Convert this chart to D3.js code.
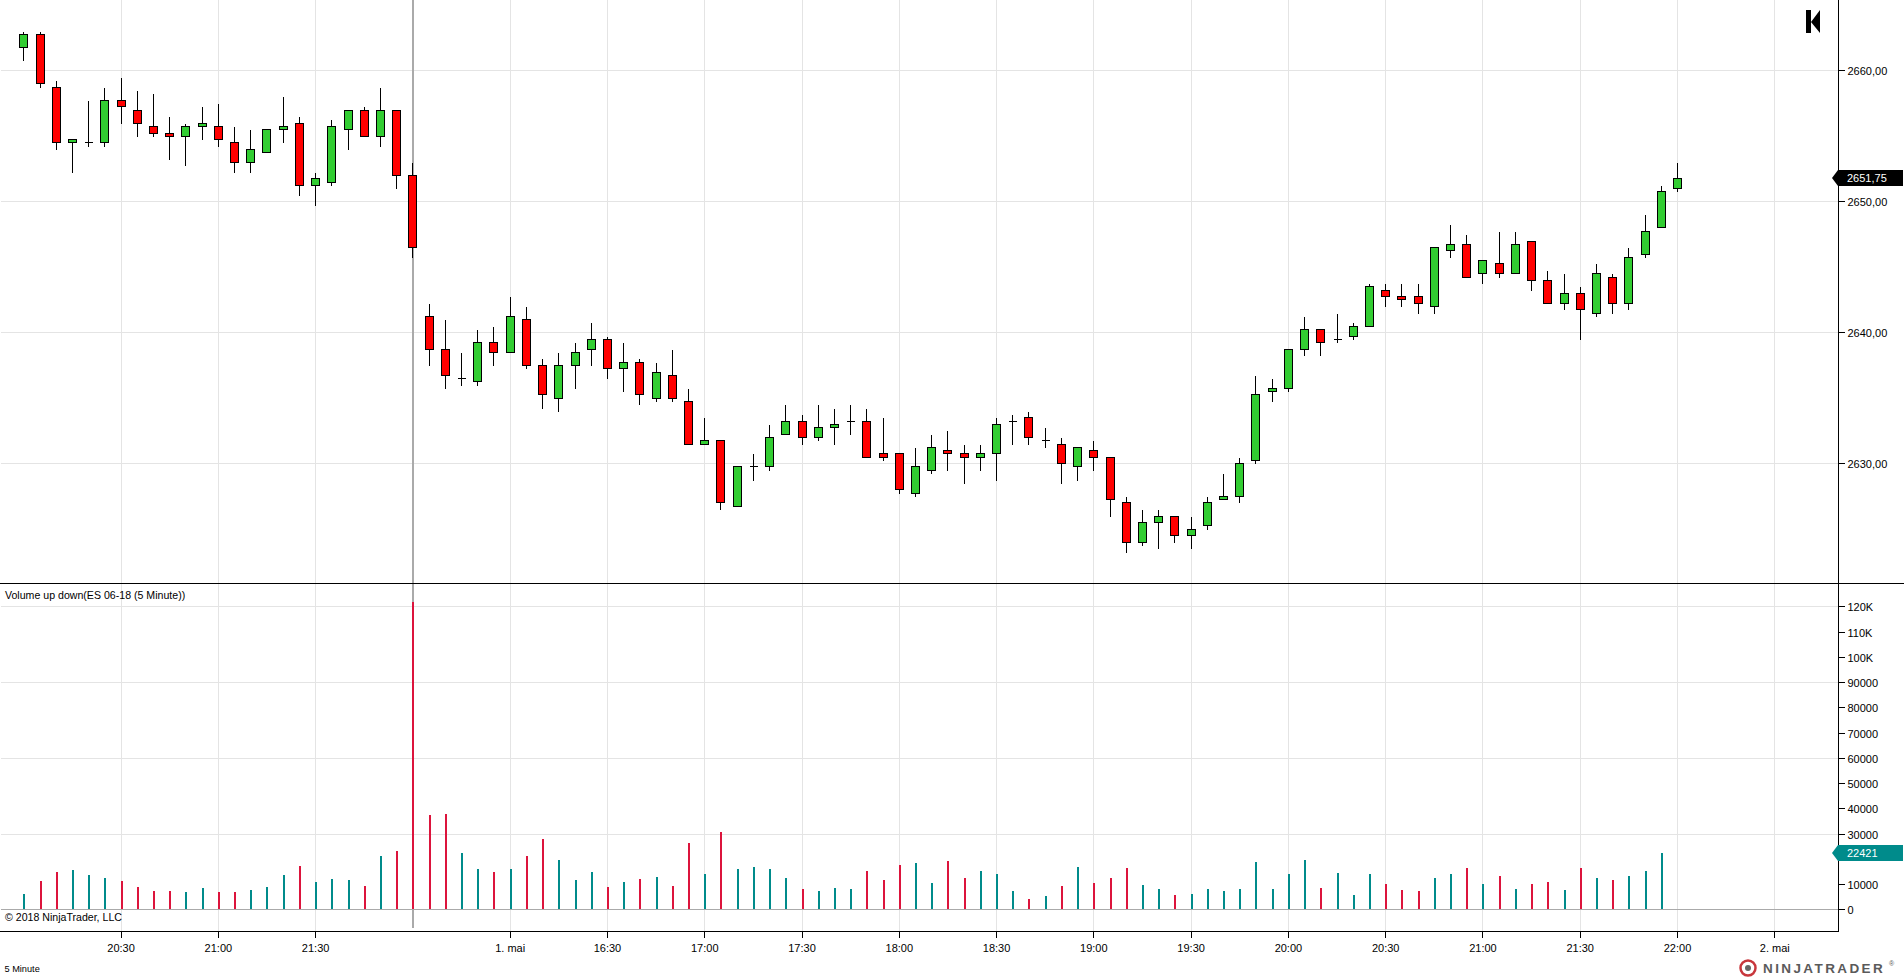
<!DOCTYPE html>
<html><head><meta charset="utf-8">
<style>
html,body{margin:0;padding:0;background:#fff;overflow:hidden}
svg{display:block}
text{font-family:"Liberation Sans",Arial,sans-serif;fill:#000}
.tick text{font-size:11px}
</style>
<script src="https://cdn.jsdelivr.net/npm/d3@7"></script>
</head><body>
<svg id="c" width="1904" height="978"></svg>
<script>
const opens=[2661.75,2662.75,2658.75,2654.5,2654.5,2654.5,2657.75,2657,2655.75,2655.25,2655,2655.75,2655.75,2654.5,2653,2653.75,2655.5,2656,2651.25,2651.5,2655.5,2657,2655,2657,2652,
2641.25,2638.75,2636.5,2636.25,2639.25,2638.5,2641,2637.5,2635,2637.5,2638.75,2639.5,2637.25,2637.75,2635,2636.75,2634.75,2631.5,2631.75,2626.75,2629.75,2629.75,2632.25,2633.25,2632,2632.75,2633.25,2633.25,2630.75,2630.75,2627.75,2629.5,2631,2630.75,2630.5,2630.75,2633.25,2633.5,2631.75,2631.5,2629.75,2631,2630.5,2627,2624,2625.5,2626,2624.5,2625.25,2627.25,2627.5,2630.25,2635.5,2635.75,2638.75,2640.25,2639.5,2639.75,2640.5,2643.25,2642.75,2642.75,2642,2646.25,2646.75,2644.5,2645.25,2644.5,2647,2644,2642.25,2643,2641.5,2644.25,2642.25,2646,2648,2651];
const highs=[2663,2663,2659.25,2654.75,2657.75,2658.75,2659.5,2658.5,2658.25,2656.5,2656,2657.25,2657.5,2655.75,2655.5,2655.5,2658,2656.5,2652.25,2656.25,2657,2657.25,2658.75,2657,2653,
2642.25,2641,2638.5,2640.25,2640.5,2642.75,2642,2638,2638.5,2639.25,2640.75,2639.75,2639.25,2638,2637.75,2638.75,2635.75,2633.5,2631.75,2629.75,2630.75,2633,2634.5,2633.75,2634.5,2634.25,2634.5,2634.25,2633.5,2630.75,2631.25,2632.25,2632.5,2631.5,2631.5,2633.5,2633.75,2634,2632.75,2632,2631.25,2631.75,2630.5,2627.5,2626.5,2626.5,2626,2626,2627.5,2629.25,2630.5,2636.75,2636.5,2638.75,2641.25,2640.25,2641.5,2640.75,2643.75,2643.75,2643.75,2643.75,2646.5,2648.25,2647.5,2645.5,2647.75,2647.75,2647,2644.75,2644.5,2643.5,2645.25,2644.5,2646.5,2649,2651.25,2653];
const lows=[2660.75,2658.75,2654,2652.25,2654.25,2654.25,2656,2655,2655,2653.25,2652.75,2654.75,2654.25,2652.25,2652.25,2653.75,2654.5,2650.5,2649.75,2651.25,2654,2655,2654.25,2651,2645.75,
2637.5,2635.75,2636,2636,2637.5,2638.5,2637.25,2634.25,2634,2635.75,2637.5,2636.5,2635.5,2634.5,2634.75,2634.75,2631.5,2631.5,2626.5,2626.75,2628.75,2629.5,2632.25,2631.5,2631.75,2631.5,2632.25,2630.5,2630.25,2627.75,2627.5,2629.25,2629.5,2628.5,2629.5,2628.75,2631.5,2631.5,2631.25,2628.5,2628.75,2629.5,2626,2623.25,2623.75,2623.5,2624,2623.5,2625,2627.25,2627,2630,2634.75,2635.5,2638.25,2638.25,2639.25,2639.5,2640.5,2642,2642,2641.5,2641.5,2645.75,2644.25,2643.75,2644.25,2644.5,2643.25,2642.25,2641.75,2639.5,2641.25,2641.5,2641.75,2645.75,2648,2650.75];
const closes=[2662.75,2659,2654.5,2654.75,2654.5,2657.75,2657.25,2656,2655.25,2655,2655.75,2656,2654.75,2653,2654,2655.5,2655.75,2651.25,2651.75,2655.75,2657,2655,2657,2652,2646.5,
2638.75,2636.75,2636.5,2639.25,2638.5,2641.25,2637.5,2635.25,2637.5,2638.5,2639.5,2637.25,2637.75,2635.25,2637,2635,2631.5,2631.75,2627,2629.75,2629.75,2632,2633.25,2632,2632.75,2633,2633.25,2630.5,2630.5,2628,2629.75,2631.25,2630.75,2630.5,2630.75,2633,2633.25,2632,2631.75,2630,2631.25,2630.5,2627.25,2624,2625.5,2626,2624.5,2625,2627,2627.5,2630,2635.25,2635.75,2638.75,2640.25,2639.25,2639.5,2640.5,2643.5,2642.75,2642.5,2642.25,2646.5,2646.75,2644.25,2645.5,2644.5,2646.75,2644,2642.25,2643,2641.75,2644.5,2642.25,2645.75,2647.75,2650.75,2651.75];
const volumes=[6050,11190,14740,15530,13550,12370,11190,8820,7240,7240,6840,8420,6840,6840,7630,8820,13550,17100,10790,11980,11580,9210,21050,23030,121600,
37400,37900,22240,15920,14740,15920,21050,27770,19480,11580,14740,8820,10970,11930,12890,9040,26360,13850,30690,15780,16740,15780,12410,8080,7120,8560,8080,15300,11450,17700,18180,10490,19140,12410,15300,13850,7120,4230,5190,9040,16740,10490,12410,16260,9520,8080,5680,6160,8080,7120,8080,18660,8080,13850,19620,8560,14330,5680,13850,10000,7600,7120,12410,13850,16260,10000,13370,8080,10000,10970,7600,16260,12410,11450,13370,15300,22421];
const timeTickIndex=[6,12,18,30,36,42,48,54,60,66,72,78,84,90,96,102,108];
const timeTickLabels=["20:30","21:00","21:30","1. mai","16:30","17:00","17:30","18:00","18:30","19:00","19:30","20:00","20:30","21:00","21:30","22:00","2. mai"];
const priceTicks=[2630,2640,2650,2660];
const volumeTicks=[0,10000,20000,30000,40000,50000,60000,70000,80000,90000,100000,110000,120000];
const volumeGrid=[0,30000,60000,90000,120000];
const breakIndex=24;
const lastPrice=2651.75;
const lastVolume=22421;

const AX=1838,SEP=583.5,BOT=931.5;
const svg=d3.select("#c");
const x=d3.scaleLinear().domain([0,102]).range([23.3,1677]);
const yP=d3.scaleLinear().domain([2630,2660]).range([463.2,70.3]);
const yV=d3.scaleLinear().domain([0,120000]).range([909.3,606.3]);
const sx=v=>Math.round(x(v))+.5;
const sp=v=>Math.round(yP(v))+.5;
const sv=v=>Math.round(yV(v))+.5;

const grid=svg.append("g").attr("shape-rendering","crispEdges").attr("stroke","#e4e4e4");
grid.selectAll(".vp").data(timeTickIndex).join("line").attr("x1",sx).attr("x2",sx).attr("y1",0).attr("y2",BOT);
grid.selectAll(".hp").data(priceTicks,d=>"p"+d).enter().append("line").attr("x1",1).attr("x2",AX).attr("y1",sp).attr("y2",sp);
grid.selectAll(".hv").data(volumeGrid,d=>"v"+d).enter().append("line").attr("x1",1).attr("x2",AX).attr("y1",sv).attr("y2",sv);

// zero line and session break
svg.append("line").attr("x1",1).attr("x2",AX).attr("y1",sv(0)).attr("y2",sv(0)).attr("stroke","#aaaaaa").attr("shape-rendering","crispEdges");
svg.append("rect").attr("x",Math.round(x(breakIndex))).attr("y",0).attr("width",2).attr("height",927.5).attr("fill","#aaaaaa").attr("shape-rendering","crispEdges");

// volume bars
const idx=d3.range(opens.length);
svg.append("g").attr("shape-rendering","crispEdges").selectAll("rect").data(volumes).join("rect")
 .attr("x",(d,i)=>Math.round(x(i))).attr("width",2)
 .attr("y",d=>Math.round(yV(d))).attr("height",d=>Math.round(yV(0))-Math.round(yV(d)))
 .attr("fill",(d,i)=>closes[i]>=opens[i]?"#008b8b":"#dc143c");

// candles
const cg=svg.append("g").attr("shape-rendering","crispEdges");
cg.selectAll(".w").data(idx).join("line").attr("x1",sx).attr("x2",sx)
 .attr("y1",i=>sp(highs[i])).attr("y2",i=>sp(lows[i])+.5).attr("stroke","#000");
cg.selectAll(".b").data(idx,i=>"b"+i).enter().append("path")
 .attr("d",i=>{
   const top=sp(Math.max(opens[i],closes[i])),bot=sp(Math.min(opens[i],closes[i])),l=sx(i)-4;
   return `M${l},${top}H${l+8}V${bot}H${l}Z`;
 })
 .attr("fill",i=>closes[i]>=opens[i]?"#32cd32":"#ff0000").attr("stroke","#000").attr("stroke-linecap","square");

// frames
const fr=svg.append("g").attr("shape-rendering","crispEdges").attr("stroke","#000");
fr.append("line").attr("x1",0).attr("x2",1904).attr("y1",SEP).attr("y2",SEP);
fr.append("line").attr("x1",0).attr("x2",AX).attr("y1",BOT).attr("y2",BOT);
fr.append("line").attr("x1",AX+.5).attr("x2",AX+.5).attr("y1",0).attr("y2",BOT);

// axes
const comma=v=>d3.format(".2f")(v).replace(".",",");
const pa=d3.axisRight(yP).tickValues(priceTicks).tickSize(6).tickPadding(3).tickFormat(comma);
// the 20000 label lies under the last-volume tag in the reference, so only its tick shows
const va=d3.axisRight(yV).tickValues(volumeTicks).tickSize(6).tickPadding(3).tickFormat(v=>v===20000?"":v>=100000?(v/1000)+"K":String(v));
const ag=svg.append("g").attr("transform",`translate(${AX+.5},0)`);
ag.append("g").call(pa).call(g=>g.select(".domain").remove());
ag.append("g").call(va).call(g=>g.select(".domain").remove());
ag.selectAll(".tick text").attr("dy","0.42em");
const xa=d3.axisBottom(x).tickValues(timeTickIndex).tickSize(6).tickPadding(7).tickFormat((d,i)=>timeTickLabels[i]);
svg.append("g").attr("transform",`translate(0,${BOT})`).call(xa).call(g=>g.select(".domain").remove());
svg.selectAll(".tick line").attr("stroke","#000").attr("shape-rendering","crispEdges");
svg.selectAll(".tick text").attr("font-family",null).attr("font-size",null);

// last price / volume tags
function tag(v,y,fill){
 const c=Math.round(y);
 svg.append("path").attr("d",`M${AX-6},${c} L${AX},${c-8} H1903 V${c+8} H${AX} Z`).attr("fill",fill);
 svg.append("text").attr("x",AX+9).attr("y",c+4).attr("font-size",11).style("fill","#fff").text(v);
}
tag(comma(lastPrice),yP(lastPrice),"#000");
tag(String(lastVolume),yV(lastVolume),"#008b8b");

// texts
svg.append("text").attr("x",5).attr("y",598.5).attr("font-size",10.6).text("Volume up down(ES 06-18 (5 Minute))");
svg.append("text").attr("x",5).attr("y",921).attr("font-size",10.6).text("© 2018 NinjaTrader, LLC");
svg.append("text").attr("x",4.5).attr("y",972).attr("font-size",9.2).text("5 Minute");

// navigation icon
svg.append("path").attr("d","M1806,10 h5 v23 h-5 Z M1811,22 L1820,10 V33 Z").attr("fill","#000");

// logo
const lg=svg.append("g");
lg.append("circle").attr("cx",1748).attr("cy",968).attr("r",7.5).attr("fill","none").attr("stroke","#c8373c").attr("stroke-width",2.5);
lg.append("circle").attr("cx",1748).attr("cy",968).attr("r",3).attr("fill","#666");
lg.append("text").attr("x",1763).attr("y",973).attr("font-size",13.5).attr("font-weight",700).attr("letter-spacing",2.4).style("fill","#5a5a5a").text("NINJATRADER");
lg.append("text").attr("x",1889).attr("y",966).attr("font-size",7).style("fill","#5a5a5a").text("®");
</script>
</body></html>
